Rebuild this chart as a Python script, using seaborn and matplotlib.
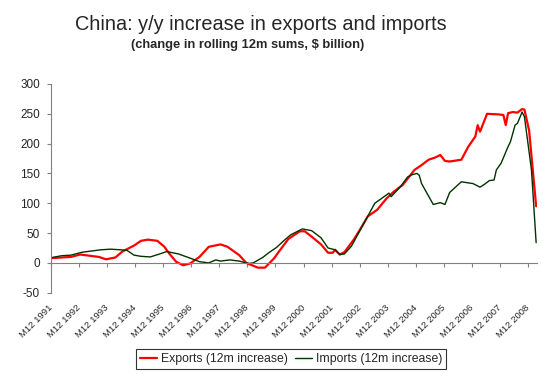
import matplotlib
matplotlib.use("Agg")
import matplotlib.pyplot as plt
import matplotlib.transforms as mtransforms
import seaborn as sns
import pandas as pd

# month offsets counted from Dec 1991 (0 = M12 1991), values in $ billion
exp_month = [0, 4, 8, 12, 16, 20, 23, 27, 30, 35, 38, 41, 45, 48, 50, 53, 56, 59,
             63, 67, 72, 75, 80, 83, 88, 91, 95, 97, 101, 104, 106, 108, 111, 115,
             118, 120, 121, 123, 125, 129, 132, 135, 139, 143, 146, 150, 153, 155,
             158, 161, 164, 166, 168, 170, 175, 178, 181, 182, 183, 186, 191, 193,
             194, 195, 197, 199, 201, 202, 204, 205, 207]
exp_value = [8, 9, 10, 14, 12, 10, 6, 9, 19, 29, 37, 39, 37, 27, 16, 2, -4, -1,
             10, 27, 31, 27, 13, 0, -8, -8, 8, 19, 40, 48, 53, 53, 44, 31,
             17, 17, 22, 14, 18, 39, 58, 78, 89, 108, 119, 131, 146, 156,
             164, 173, 177, 181, 171, 170, 173, 195, 212, 231, 220, 250, 249, 248,
             231, 251, 253, 252, 258, 257, 222, 180, 95]

imp_month = [0, 4, 8, 13, 17, 21, 25, 29, 32, 35, 38, 42, 46, 49, 54, 59, 63, 67,
             70, 72, 76, 80, 84, 86, 90, 93, 96, 99, 102, 107, 111, 115, 118, 121,
             123, 125, 128, 133, 138, 143, 144, 145, 149, 152, 154, 156, 157, 158,
             163, 166, 168, 170, 175, 180, 183, 185, 187, 189, 190, 192, 195, 196,
             198, 199, 201, 202, 205, 207]
imp_value = [9, 12, 13, 18, 20, 22, 23, 22, 21, 13, 11, 10, 15, 19, 15, 8, 2, 0,
             5, 3, 5, 3, -1, 0, 9, 18, 26, 37, 47, 57, 54, 42, 25, 22,
             14, 15, 28, 64, 100, 114, 117, 111, 128, 144, 148, 150, 147, 133,
             98, 101, 98, 118, 136, 133, 127, 132, 138, 139, 156, 167, 195, 203,
             231, 234, 253, 245, 156, 34]

tick_labels = ["M12 %d" % y for y in range(1991, 2009)]
y_ticks = [-50, 0, 50, 100, 150, 200, 250, 300]

sns.set_style("white")
plt.rcParams["font.family"] = ["Liberation Sans", "DejaVu Sans"]

fig = plt.figure(figsize=(5.47, 3.74), dpi=100)
ax = fig.add_axes([51 / 547, 1 - 292.7 / 374, (537.3 - 51) / 547, (292.7 - 84) / 374])

exp_df = pd.DataFrame({"month": exp_month, "value": exp_value})
imp_df = pd.DataFrame({"month": imp_month, "value": imp_value})
sns.lineplot(data=exp_df, x="month", y="value", color="#ff0000", linewidth=1.6,
             label="Exports (12m increase)", ax=ax)
sns.lineplot(data=imp_df, x="month", y="value", color="#003300", linewidth=1.0,
             label="Imports (12m increase)", ax=ax)

# spines and tick_params first: both rebuild the tick labels
for side in ["top", "right"]:
    ax.spines[side].set_visible(False)
ax.spines["bottom"].set_position(("data", 0))
ax.spines["bottom"].set_color("#808080")
ax.spines["left"].set_color("#808080")
ax.tick_params(axis="y", direction="out", length=3, width=0.8, color="#808080", pad=5, left=True)
ax.tick_params(axis="x", direction="out", length=3, width=0.8, color="#808080", pad=26, bottom=True)

ax.set_xlim(-0.5, 207.5)
ax.set_ylim(-50, 300)
ax.set_yticks(y_ticks)
ax.set_yticklabels([str(v) for v in y_ticks], fontsize=8.5)
ax.set_xticks([-0.5 + 12 * k for k in range(len(tick_labels))])
ax.set_xticklabels(tick_labels, rotation=45, ha="right", rotation_mode="anchor", fontsize=6.8)
shift = mtransforms.ScaledTranslation(-3 / 100, 0, fig.dpi_scale_trans)
for lbl in ax.get_xticklabels():
    lbl.set_transform(lbl.get_transform() + shift)
ax.set_xlabel("")
ax.set_ylabel("")

ax.get_legend().remove()
handles, labels = ax.get_legend_handles_labels()
leg = fig.legend(handles, labels, loc="center", bbox_to_anchor=(291 / 547, 1 - 359 / 374),
                 ncol=2, fontsize=8.8, frameon=True, fancybox=False, edgecolor="black",
                 handlelength=1.4, handletextpad=0.3, columnspacing=0.6,
                 borderpad=0.3)
leg.get_frame().set_linewidth(0.8)

fig.text(261 / 547, 1 - 25 / 374, "China: y/y increase in exports and imports",
         ha="center", va="center", fontsize=14.3)
fig.text(248 / 547, 1 - 45 / 374, "(change in rolling 12m sums, $ billion)",
         ha="center", va="center", fontsize=9.3, fontweight="bold")

fig.savefig("out.png", dpi=100)
